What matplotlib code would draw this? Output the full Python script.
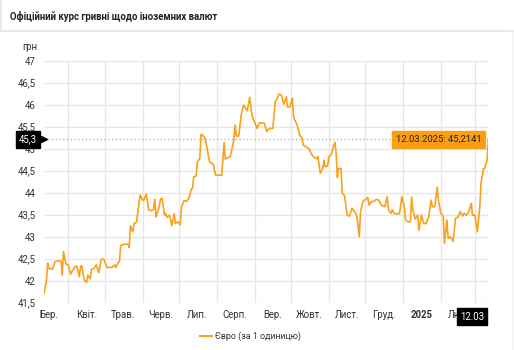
import numpy as np
import pandas as pd
import matplotlib
matplotlib.use("Agg")
import matplotlib.pyplot as plt

plt.rcParams['font.family'] = ['Roboto', 'DejaVu Sans']

# Data: EUR official rate, days counted from 12.03.2024
start = pd.Timestamp('2024-03-12')
days = [0, 2, 3, 4, 7, 9, 12, 14, 15, 16,
        18, 20, 22, 24, 26, 27, 29, 30, 31, 33,
        35, 36, 38, 39, 41, 43, 45, 47, 49, 50,
        52, 56, 58, 59, 61, 62, 63, 66, 69, 70,
        71, 73, 74, 76, 79, 81, 82, 84, 86, 88,
        90, 91, 92, 94, 96, 97, 99, 100, 101, 103,
        104, 105, 107, 108, 110, 112, 113, 115, 117, 119,
        121, 122, 123, 125, 126, 128, 129, 132, 134, 136,
        139, 141, 146, 148, 149, 151, 153, 156, 157, 158,
        160, 162, 164, 167, 169, 171, 173, 175, 177, 181,
        183, 185, 188, 190, 192, 193, 195, 197, 199, 200,
        202, 204, 205, 206, 208, 210, 212, 213, 216, 218,
        220, 222, 224, 225, 227, 229, 230, 231, 233, 234,
        236, 238, 239, 240, 241, 242, 244, 245, 247, 249,
        251, 253, 256, 257, 259, 260, 262, 265, 266, 267,
        269, 271, 273, 275, 277, 280, 282, 283, 285, 286,
        288, 290, 292, 294, 296, 297, 299, 301, 302, 303,
        305, 307, 308, 310, 312, 314, 316, 318, 319, 321,
        323, 324, 326, 328, 329, 331, 332, 334, 336, 337,
        338, 340, 342, 344, 345, 347, 349, 351, 352, 354,
        356, 358, 359, 361, 362, 364, 365]
eur = [41.71, 42.00, 42.40, 42.28, 42.26, 42.43, 42.45, 42.44, 42.13, 42.66,
       42.38, 42.36, 42.15, 42.26, 42.33, 42.33, 42.09, 42.33, 42.34, 42.02,
       41.96, 42.13, 42.04, 42.26, 42.28, 42.36, 42.18, 42.49, 42.49, 42.42,
       42.30, 42.30, 42.36, 42.30, 42.42, 42.43, 42.80, 42.83, 42.83, 42.75,
       43.25, 43.11, 43.30, 43.33, 43.95, 43.83, 43.83, 43.97, 43.61, 43.59,
       43.62, 43.85, 43.45, 43.62, 43.87, 43.87, 43.49, 43.53, 43.44, 43.49,
       43.38, 43.25, 43.52, 43.30, 43.34, 43.27, 43.68, 43.82, 43.80, 43.87,
       44.08, 44.10, 44.36, 44.38, 44.70, 44.78, 45.33, 45.26, 45.01, 44.70,
       44.65, 44.40, 44.40, 45.14, 44.76, 44.80, 44.82, 45.20, 45.54, 45.29,
       45.29, 45.77, 45.99, 45.86, 46.17, 45.73, 45.61, 45.46, 45.59, 45.58,
       45.39, 45.46, 45.46, 46.07, 46.17, 46.24, 46.22, 46.01, 46.18, 45.95,
       45.95, 46.15, 45.73, 45.65, 45.54, 45.31, 45.24, 45.08, 45.03, 44.99,
       44.86, 44.80, 44.77, 44.82, 44.44, 44.55, 44.74, 44.59, 44.61, 44.82,
       44.86, 45.08, 45.14, 44.90, 44.35, 44.55, 44.55, 43.99, 43.93, 43.49,
       43.47, 43.65, 43.53, 43.47, 43.00, 43.57, 43.80, 43.87, 43.89, 43.72,
       43.80, 43.80, 43.85, 43.83, 43.72, 43.68, 43.91, 43.61, 43.53, 43.61,
       43.52, 43.52, 43.52, 43.91, 43.68, 43.38, 43.34, 43.34, 43.90, 43.61,
       43.40, 43.49, 43.14, 43.49, 43.30, 43.30, 43.45, 43.83, 43.68, 43.68,
       44.12, 43.83, 43.53, 43.47, 42.85, 43.38, 42.96, 43.00, 42.89, 43.11,
       43.42, 43.44, 43.57, 43.47, 43.53, 43.49, 43.57, 43.76, 43.49, 43.49,
       43.11, 43.68, 44.21, 44.55, 44.55, 44.74, 45.2141]

month_labels = ['Бер.', 'Квіт.', 'Трав.', 'Черв.', 'Лип.', 'Серп.', 'Вер.',
                'Жовт.', 'Лист.', 'Груд.', '2025', 'Лют.']
yticks = [41.5, 42, 42.5, 43, 43.5, 44, 44.5, 45, 45.5, 46, 46.5, 47]
series_name = 'Євро (за 1 одиницю)'
crosshair_label = '45,3'

dates = start + pd.to_timedelta(days, unit='D')
last_date = dates[-1]
last_val = eur[-1]

W, H = 514, 350
ORANGE = '#f9a11b'
GRID = '#e6e6e6'
TXT = '#333333'
FS = 6.9

fig = plt.figure(figsize=(W / 100, H / 100), dpi=100)
fig.patch.set_facecolor('white')

# header
fig.text(10 / W, 1 - 16 / H, 'Офіційний курс гривні щодо іноземних валют',
         fontsize=6.9, fontweight='bold', color='#222222', va='center', ha='left')
fig.add_artist(plt.Line2D([0, 1], [1 - 31 / H] * 2, color='#e8e8e8', lw=1.5))
fig.add_artist(plt.Line2D([1 / W] * 2, [1 - 31 / H, 1], color='#dfe9e6', lw=1.2))
fig.add_artist(plt.Line2D([512 / W] * 2, [0, 1 - 31 / H], color='#eeeeee', lw=1))

ax = fig.add_axes([44 / W, 1 - 302.7 / H, 444.3 / W, 242 / H])
ax.plot(dates, eur, color=ORANGE, lw=1.2, zorder=3)

ax.set_xlim(start, last_date)
ax.set_ylim(41.5, 47)
for s in ax.spines.values():
    s.set_visible(False)

ax.set_yticks(yticks)
ax.set_yticklabels([('%g' % v).replace('.', ',') for v in yticks])
ax.tick_params(axis='y', length=0, pad=6, labelsize=FS, labelcolor=TXT)
ax.grid(axis='y', color=GRID, lw=1)

# month grid at month starts, labels in mid-month
month_starts = pd.date_range('2024-04-01', '2025-03-01', freq='MS')
for m in month_starts:
    ax.axvline(m, color=GRID, lw=1, zorder=1)
label_pos = pd.date_range('2024-03-01', '2025-02-01', freq='MS') + pd.Timedelta(days=15)
ax.set_xticks(label_pos)
ax.set_xticklabels(month_labels)
ax.tick_params(axis='x', length=0, pad=5, labelsize=FS, labelcolor=TXT)
for t in ax.get_xticklabels():
    if t.get_text() == '2025':
        t.set_fontweight('bold')

# crosshair
ax.axhline(last_val, color='#aaaaaa', lw=0.9, ls=(0, (1, 2)), zorder=2)
ax.axvline(last_date, color='#aaaaaa', lw=0.9, ls=(0, (1, 2)), zorder=2)
ax.annotate(crosshair_label, xy=(0, last_val), xycoords=('axes fraction', 'data'),
            xytext=(-5, 0), textcoords='offset points', ha='right', va='center',
            fontsize=FS, color='white', annotation_clip=False,
            bbox=dict(boxstyle='square,pad=0.35', fc='black', ec='black'))
ax.plot([0], [last_val], marker='>', ms=4, color='black',
        transform=ax.get_yaxis_transform(), clip_on=False, zorder=5)
ax.annotate(last_date.strftime('%d.%m'), xy=(last_date, 0),
            xycoords=('data', 'axes fraction'), xytext=(-3, -10),
            textcoords='offset points', ha='right', va='center',
            fontsize=FS, color='white', annotation_clip=False, zorder=6,
            bbox=dict(boxstyle='square,pad=0.35', fc='black', ec='black'))

# tooltip
val_txt = ('%.4f' % last_val).replace('.', ',')
ax.annotate(last_date.strftime('%d.%m.%Y') + ': ' + val_txt, xy=(last_date, last_val),
            xytext=(-5, 0), textcoords='offset points', ha='right', va='center',
            fontsize=6.8, color='#222222', zorder=6, annotation_clip=False,
            bbox=dict(boxstyle='square,pad=0.4', fc='#fb9e14', ec='#fb9e14'))

# axis unit
fig.text(22 / W, 1 - 47 / H, 'грн', fontsize=FS, color=TXT, va='center', ha='left')

# legend
fig.add_artist(plt.Line2D([200 / W, 212 / W], [1 - 336 / H] * 2, color=ORANGE, lw=1.5))
fig.text(215 / W, 1 - 336 / H, series_name, fontsize=6.4, color=TXT, va='center', ha='left')

fig.savefig('out.png', dpi=100, facecolor='white')
